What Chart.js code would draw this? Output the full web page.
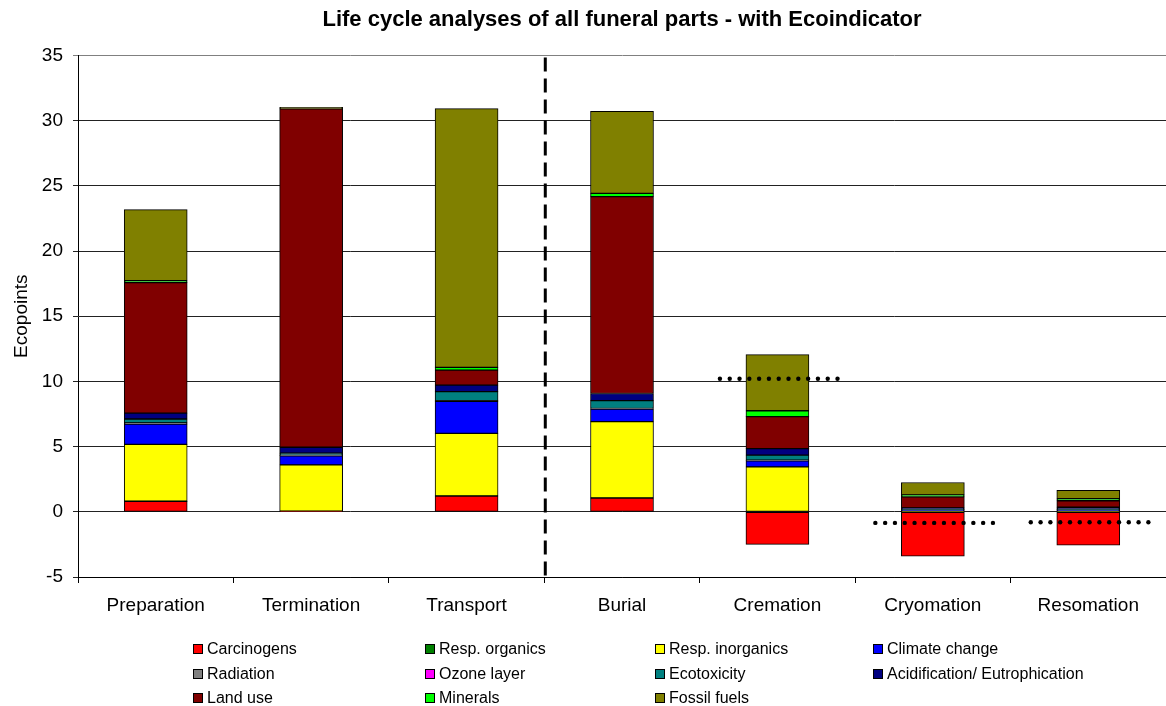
<!DOCTYPE html>
<html>
<head>
<meta charset="utf-8">
<script src="https://cdn.jsdelivr.net/npm/chart.js@4/dist/chart.umd.min.js"></script>
<style>
  html, body { margin: 0; padding: 0; background: #fff; }
  #wrap { width: 1166px; height: 706px; }
</style>
</head>
<body>
<div id="wrap"><canvas id="lcaChart" width="1166" height="706"></canvas></div>
<script>
const categories = ['Preparation', 'Termination', 'Transport', 'Burial', 'Cremation', 'Cryomation', 'Resomation'];

const carcinogens    = [0.8, 0.05, 1.2, 1.05, -2.5, -3.4, -2.55];
const respOrganics   = [0.02, 0, 0.02, 0.02, 0, 0, 0];
const respInorganics = [4.35, 3.55, 4.8, 5.85, 3.45, 0.05, 0.05];
const climateChange  = [1.55, 0.7, 2.45, 0.95, 0.45, 0.1, 0.1];
const radiation      = [0.1, 0.05, 0.05, 0.05, 0.05, 0, 0];
const ozoneLayer     = [0, 0, 0, 0, 0, 0, 0];
const ecotoxicity    = [0.3, 0.15, 0.7, 0.6, 0.4, 0.05, 0.05];
const acidification  = [0.45, 0.45, 0.5, 0.55, 0.5, 0.1, 0.15];
const landUse        = [10.0, 25.95, 1.15, 15.1, 2.45, 0.85, 0.5];
const minerals       = [0.15, 0, 0.2, 0.25, 0.45, 0.15, 0.15];
const fossilFuels    = [5.45, 0.12, 19.85, 6.3, 4.3, 0.95, 0.65];

// dotted reference levels (category index, value) and the dashed divider
const refCategory = [4, 5, 6];
const refValue    = [10.2, -0.85, -0.8];
const dividerAt   = 2.5;

const FONT = "'Liberation Sans', Arial, sans-serif";

function series(label, data, color) {
    return {
        label: label,
        data: data,
        backgroundColor: color,
        borderColor: '#000',
        borderWidth: 1,
        borderSkipped: false,
        barThickness: 63
    };
}

const datasets = [
    series('Carcinogens', carcinogens, '#FF0000'),
    series('Resp. organics', respOrganics, '#008000'),
    series('Resp. inorganics', respInorganics, '#FFFF00'),
    series('Climate change', climateChange, '#0000FF'),
    series('Radiation', radiation, '#808080'),
    series('Ozone layer', ozoneLayer, '#FF00FF'),
    series('Ecotoxicity', ecotoxicity, '#008080'),
    series('Acidification/ Eutrophication', acidification, '#000080'),
    series('Land use', landUse, '#800000'),
    series('Minerals', minerals, '#00FF00'),
    series('Fossil fuels', fossilFuels, '#808000')
];

// divider + dotted lines, drawn from the scales
const markerLines = {
    id: 'markerLines',
    afterDatasetsDraw(chart) {
        const { ctx, scales: { x, y } } = chart;
        ctx.save();
        // dashed vertical divider
        const xd = x.getPixelForValue(dividerAt) + 1;
        ctx.strokeStyle = '#000';
        ctx.lineWidth = 3;
        ctx.setLineDash([14, 7]);
        ctx.beginPath();
        ctx.moveTo(xd, y.getPixelForValue(35) + 2);
        ctx.lineTo(xd, y.getPixelForValue(-5));
        ctx.stroke();
        // dotted levels
        ctx.fillStyle = '#000';
        for (let i = 0; i < refCategory.length; i++) {
            const x1 = x.getPixelForValue(refCategory[i] - 0.37);
            const x2 = x.getPixelForValue(refCategory[i] + 0.41);
            const yy = y.getPixelForValue(refValue[i]);
            for (let px = x1; px <= x2; px += 9.8) {
                ctx.beginPath();
                ctx.arc(px, yy, 2.2, 0, Math.PI * 2);
                ctx.fill();
            }
        }
        ctx.restore();
    }
};

// 4-column legend like the original
const gridLegend = {
    id: 'gridLegend',
    afterDraw(chart) {
        const { ctx } = chart;
        const colX = [193, 425, 655, 873];
        const rowY = [649, 674, 698];
        ctx.save();
        ctx.font = '16px ' + FONT;
        ctx.textBaseline = 'middle';
        chart.data.datasets.forEach((ds, i) => {
            const cx = colX[i % 4];
            const cy = rowY[Math.floor(i / 4)];
            ctx.fillStyle = ds.backgroundColor;
            ctx.fillRect(cx, cy - 5, 10, 10);
            ctx.strokeStyle = '#000';
            ctx.lineWidth = 1;
            ctx.strokeRect(cx + 0.5, cy - 4.5, 9, 9);
            ctx.fillStyle = '#000';
            ctx.fillText(ds.label, cx + 14, cy + 1);
        });
        ctx.restore();
    }
};

Chart.defaults.font.family = FONT;
Chart.defaults.color = '#000';

const ctx = document.getElementById('lcaChart').getContext('2d');
const lcaChart = new Chart(ctx, {
    type: 'bar',
    data: {
        labels: categories,
        datasets: datasets
    },
    options: {
        responsive: false,
        animation: false,
        layout: {
            padding: { left: 10, right: 0, top: 0, bottom: 78 }
        },
        plugins: {
            legend: { display: false },
            tooltip: { enabled: false },
            title: {
                display: true,
                fullSize: false,
                text: 'Life cycle analyses of all funeral parts - with Ecoindicator',
                font: { size: 22, weight: 'bold' },
                color: '#000',
                padding: { top: 7, bottom: 22 }
            }
        },
        scales: {
            x: {
                stacked: true,
                grid: {
                    display: true,
                    offset: true,
                    drawOnChartArea: false,
                    drawTicks: true,
                    tickLength: 6,
                    color: '#000'
                },
                border: { display: true, color: '#000', width: 1 },
                ticks: {
                    font: { size: 19 },
                    padding: 11,
                    maxRotation: 0,
                    autoSkip: false
                },
                afterFit(scale) { scale.height = 51; }
            },
            y: {
                stacked: true,
                min: -5,
                max: 35,
                title: {
                    display: true,
                    text: 'Ecopoints',
                    font: { size: 19 },
                    padding: { top: 0, bottom: 2 }
                },
                ticks: {
                    stepSize: 5,
                    font: { size: 19 },
                    padding: 10
                },
                grid: {
                    color: (c) => c.tick && c.tick.value === 35 ? '#808080' : '#222',
                    lineWidth: 1,
                    tickLength: 5,
                    drawTicks: true
                },
                border: { display: true, color: '#000', width: 1 },
                afterFit(scale) { scale.width = 68; }
            }
        }
    },
    plugins: [markerLines, gridLegend]
});
</script>
</body>
</html>
